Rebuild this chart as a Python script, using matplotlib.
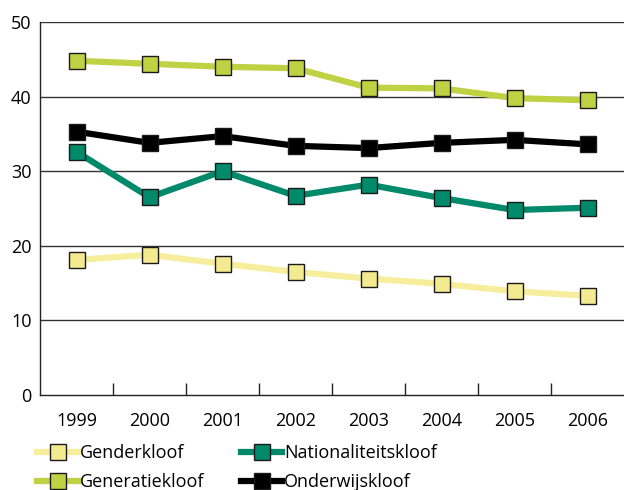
import matplotlib
matplotlib.use("Agg")
import matplotlib.pyplot as plt
from matplotlib.lines import Line2D

years = ["1999", "2000", "2001", "2002", "2003", "2004", "2005", "2006"]
gender = [18.1, 18.8, 17.6, 16.5, 15.6, 14.9, 13.9, 13.3]
generatie = [44.8, 44.4, 44.0, 43.8, 41.2, 41.1, 39.8, 39.5]
nationaliteit = [32.6, 26.5, 30.0, 26.7, 28.2, 26.4, 24.8, 25.1]
onderwijs = [35.3, 33.8, 34.7, 33.4, 33.1, 33.8, 34.2, 33.6]
labels = ["Genderkloof", "Generatiekloof", "Nationaliteitskloof", "Onderwijskloof"]

plt.rcParams['font.family'] = ['Open Sans', 'DejaVu Sans']

fig = plt.figure(figsize=(6.24, 4.9), dpi=100)
ax = fig.add_axes([40/624, 1 - 395/490, 584/624, 373/490])

series = [
    (gender, "#f6ee9c", "#f4ea90"),
    (generatie, "#bfd243", "#bfd243"),
    (nationaliteit, "#00896a", "#00896a"),
    (onderwijs, "#000000", "#000000"),
]
x = list(range(len(years)))
handles = []
for (vals, lc, mc), lab in zip(series, labels):
    ax.plot(x, vals, color=lc, lw=4.5, zorder=3, solid_capstyle='butt')
    ax.plot(x, vals, ls='none', marker='s', ms=11, mfc=mc, mec='#1a1a1a',
            mew=1.0, zorder=4)
    handles.append(Line2D([], [], color=lc, lw=4.5, marker='s', ms=11,
                          mfc=mc, mec='#1a1a1a', mew=1.0))

ax.set_xlim(-0.5, 7.5)
ax.set_ylim(0, 50)
ax.set_yticks([0, 10, 20, 30, 40, 50])
ax.set_xticks(x)
ax.set_xticklabels(years)
ax.set_xticks([i + 0.5 for i in range(7)], minor=True)
ax.tick_params(axis='x', which='major', length=0, pad=12, labelsize=13)
ax.tick_params(axis='x', which='minor', direction='in', length=9, width=1, color='#222222')
ax.tick_params(axis='y', length=0, pad=6, labelsize=13)
for v in [10, 20, 30, 40, 50]:
    ax.axhline(v, color='#333333', lw=1.0, zorder=1)
for s in ['top', 'right']:
    ax.spines[s].set_visible(False)
ax.spines['left'].set_color('#222222')
ax.spines['bottom'].set_color('#222222')
ax.spines['left'].set_linewidth(1.0)
ax.spines['bottom'].set_linewidth(1.0)

fig.legend(handles, labels, loc='upper left', bbox_to_anchor=(37/624, 1 - 444/490),
           ncol=2, frameon=False, fontsize=13, handlelength=2.3, handletextpad=0.1,
           columnspacing=2.0, labelspacing=0.6, borderaxespad=0, borderpad=0)

fig.savefig("out.png", dpi=100)
